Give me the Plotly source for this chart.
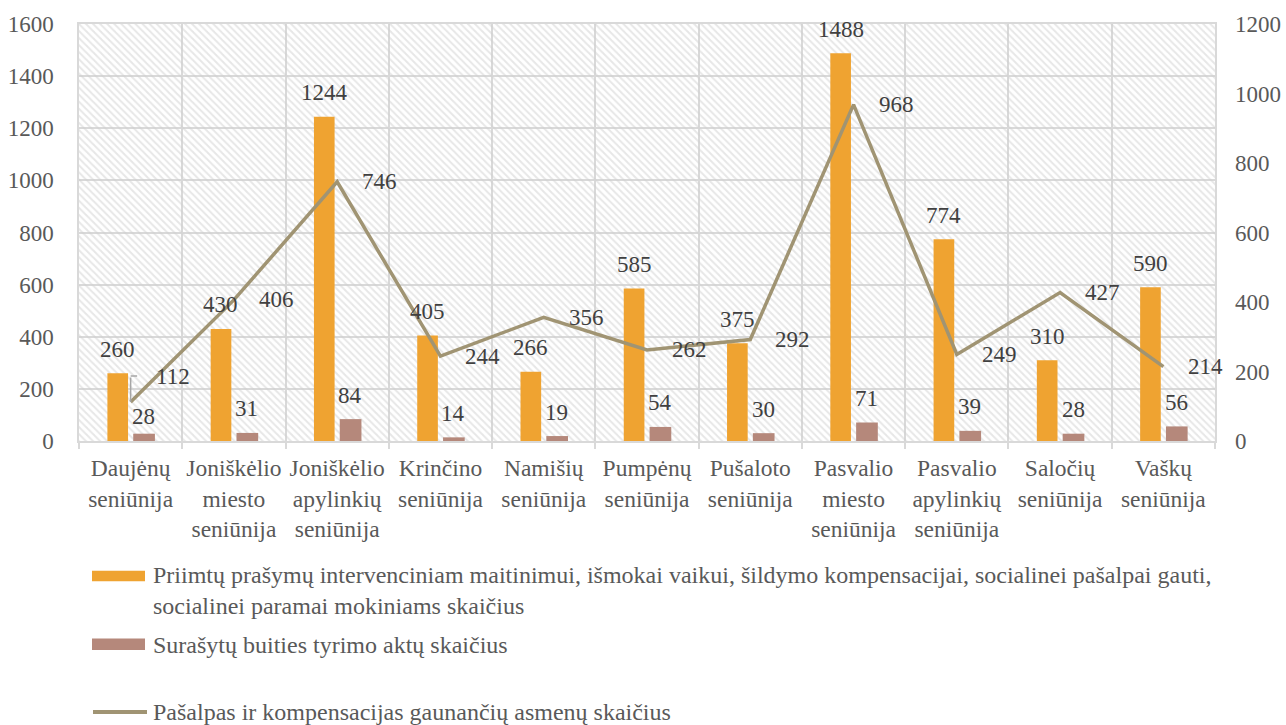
import plotly.graph_objects as go

categories = [
    "Daujėnų<br>seniūnija",
    "Joniškėlio<br>miesto<br>seniūnija",
    "Joniškėlio<br>apylinkių<br>seniūnija",
    "Krinčino<br>seniūnija",
    "Namišių<br>seniūnija",
    "Pumpėnų<br>seniūnija",
    "Pušaloto<br>seniūnija",
    "Pasvalio<br>miesto<br>seniūnija",
    "Pasvalio<br>apylinkių<br>seniūnija",
    "Saločių<br>seniūnija",
    "Vaškų<br>seniūnija",
]
prasymai = [260, 430, 1244, 405, 266, 585, 375, 1488, 774, 310, 590]
aktai = [28, 31, 84, 14, 19, 54, 30, 71, 39, 28, 56]
gaunantys = [112, 406, 746, 244, 356, 262, 292, 968, 249, 427, 214]

name_prasymai = ("Priimtų prašymų intervenciniam maitinimui, išmokai vaikui, šildymo kompensacijai, "
                 "socialinei pašalpai gauti,<br>socialinei paramai mokiniams skaičius")
name_aktai = "Surašytų buities tyrimo aktų skaičius"
name_gaunantys = "Pašalpas ir kompensacijas gaunančių asmenų skaičius"

left_ticks = list(range(0, 1601, 200))
right_ticks = list(range(0, 1201, 200))

C_OR = "#EFA331"
C_BR = "#B5887B"
C_LN = "#A09473"
FONT = "Liberation Serif"
FS = 23
FS_CAT = 23.5
FS_LEG = 24
TXT = "#404040"
TICK = "#595959"
GRID = "#d9d9d9"

W, H = 1286, 725
ML, MR, MT, MB = 79, 71, 24, 284
PW = W - ML - MR
PH = H - MT - MB


def px2paper_x(px):
    return (px - ML) / PW


def px2paper_y(py):
    return (H - MB - py) / PH


fig = go.Figure()

# hatched plot-area background
fig.add_trace(go.Bar(
    x=categories, y=[left_ticks[-1]] * len(categories), width=1, offset=-0.5,
    marker=dict(color="rgba(0,0,0,0)", line=dict(width=0),
                pattern=dict(shape="\\", fgcolor="#cfcfcf", bgcolor="rgba(0,0,0,0)",
                             size=5, solidity=0.4)),
    hoverinfo="skip", showlegend=False,
))

fig.add_trace(go.Bar(
    x=categories, y=prasymai, name=name_prasymai, width=0.2, offset=-0.225,
    marker=dict(color=C_OR, line=dict(width=0)), showlegend=False,
))
fig.add_trace(go.Bar(
    x=categories, y=aktai, name=name_aktai, width=0.21, offset=0.025,
    marker=dict(color=C_BR, line=dict(width=0)), showlegend=False,
))
fig.add_trace(go.Scatter(
    x=categories, y=gaunantys, name=name_gaunantys, yaxis="y2", mode="lines",
    line=dict(color=C_LN, width=3.5), showlegend=False,
))

annotations = []
for c, v in zip(categories, prasymai):
    annotations.append(dict(x=c, y=v, xref="x", yref="y", text=str(v), showarrow=False,
                            xshift=-13, yshift=24, yanchor="middle",
                            font=dict(family=FONT, size=FS, color=TXT)))
for i, (c, v) in enumerate(zip(categories, aktai)):
    annotations.append(dict(x=c, y=v, xref="x", yref="y", text=str(v), showarrow=False,
                            xshift=13, yshift=17 if i == 0 else 24, yanchor="middle",
                            font=dict(family=FONT, size=FS, color=TXT)))
for i, (c, v) in enumerate(zip(categories, gaunantys)):
    annotations.append(dict(x=c, y=v, xref="x", yref="y2", text=str(v), showarrow=False,
                            xshift=23, yshift=26 if i == 0 else 0, xanchor="left", yanchor="middle",
                            font=dict(family=FONT, size=FS, color=TXT)))

# leader line for the first line label
annotations.append(dict(x=categories[0], y=gaunantys[0], xref="x", yref="y2", text="",
                        showarrow=True, arrowhead=0, ax=0, ay=-26, standoff=0, startstandoff=0,
                        arrowwidth=1.5, arrowcolor="#a6a6a6", font=dict(size=1)))
annotations.append(dict(x=categories[0], y=gaunantys[0], xref="x", yref="y2", text="",
                        showarrow=True, arrowhead=0, ax=8, ay=0, yshift=26, standoff=0,
                        arrowwidth=1.5, arrowcolor="#a6a6a6", font=dict(size=1)))

# manual legend
legend_items = [
    (name_prasymai, 590, "rect", C_OR, 570.7, 581.3),
    (name_aktai, 645, "rect", C_BR, 638.5, 650),
    (name_gaunantys, 712, "line", C_LN, 712, 712),
]
shapes = []
for text, ty, kind, col, y0, y1 in legend_items:
    annotations.append(dict(x=px2paper_x(151), y=px2paper_y(ty), xref="paper", yref="paper",
                            text=text, showarrow=False, xanchor="left", yanchor="middle",
                            align="left", font=dict(family=FONT, size=FS_LEG, color=TICK)))
    if kind == "rect":
        shapes.append(dict(type="rect", xref="paper", yref="paper",
                           x0=px2paper_x(92), x1=px2paper_x(145),
                           y0=px2paper_y(y0), y1=px2paper_y(y1),
                           fillcolor=col, line=dict(width=0)))
    else:
        shapes.append(dict(type="line", xref="paper", yref="paper",
                           x0=px2paper_x(93), x1=px2paper_x(147),
                           y0=px2paper_y(y0), y1=px2paper_y(y1),
                           line=dict(color=col, width=4)))

fig.update_layout(
    width=W, height=H,
    margin=dict(l=ML, r=MR, t=MT, b=MB, autoexpand=False),
    paper_bgcolor="white", plot_bgcolor="white",
    barmode="overlay",
    showlegend=False,
    font=dict(family=FONT, size=FS, color=TICK),
    xaxis=dict(type="category", range=[-0.5, len(categories) - 0.5],
               showgrid=True, gridcolor=GRID, gridwidth=1.5, tickson="boundaries",
               ticks="outside", ticklen=6, tickcolor=GRID, tickwidth=1.5,
               showline=True, linecolor=GRID, linewidth=1.5, mirror=True,
               ticklabelstandoff=5, tickangle=0, automargin=False,
               tickfont=dict(family=FONT, size=FS_CAT, color=TICK)),
    yaxis=dict(range=[left_ticks[0], left_ticks[-1]], tickvals=left_ticks,
               showgrid=True, gridcolor=GRID, gridwidth=1.5, zeroline=False,
               showline=True, linecolor=GRID, linewidth=1.5, mirror=True,
               ticks="", ticklabelstandoff=19, automargin=False,
               tickfont=dict(family=FONT, size=FS, color=TICK)),
    yaxis2=dict(range=[right_ticks[0], right_ticks[-1]], tickvals=right_ticks,
                overlaying="y", side="right", showgrid=False, zeroline=False,
                ticks="", ticklabelstandoff=19, automargin=False,
                tickfont=dict(family=FONT, size=FS, color=TICK)),
    annotations=annotations,
    shapes=shapes,
)

fig.write_html("out.html", config={"displayModeBar": False},
               post_script="document.body.style.margin='0';")
